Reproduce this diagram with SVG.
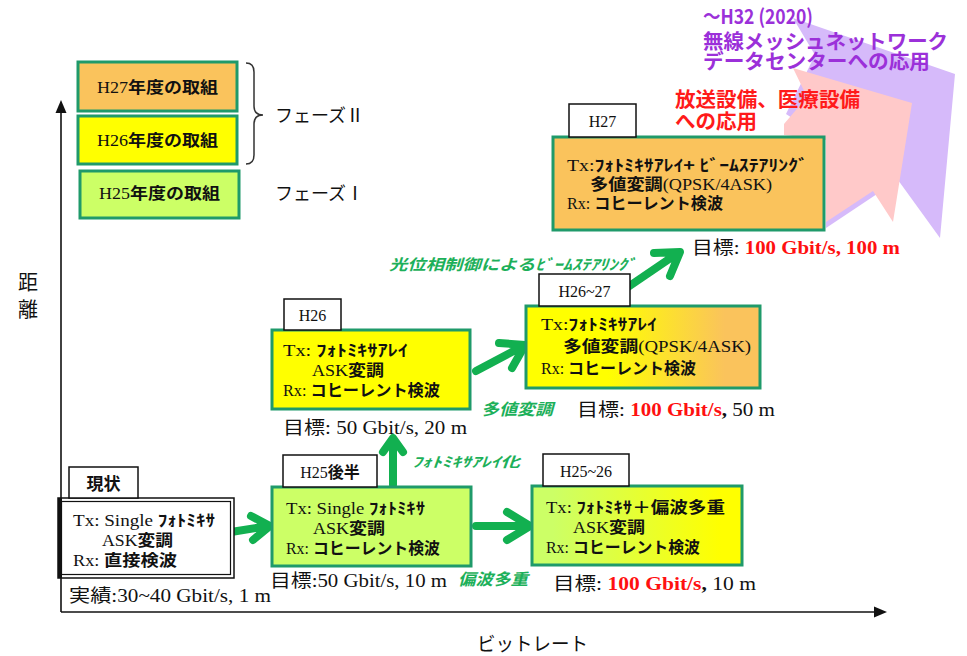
<svg xmlns="http://www.w3.org/2000/svg" width="967" height="656" viewBox="0 0 967 656">
<defs>
<style>
.ser{font-family:"Liberation Serif","Noto Sans CJK JP",serif;font-size:16px;fill:#111}
.san{font-family:"Noto Sans CJK JP",sans-serif;fill:#111}
.j{font-family:"Noto Sans CJK JP",sans-serif;font-weight:bold}
.lbl{fill:#fff;stroke:#111;stroke-width:1.5}
.node{stroke:#1F9A6A;stroke-width:3}
.goal{font-size:18px}
.red{fill:#FF1010;font-weight:bold}
.ax{stroke:#111;stroke-width:1.6;fill:none}
.ga{fill:none;stroke:#12B050;stroke-width:8;stroke-linecap:round;stroke-linejoin:round}
.gl{font-family:"Noto Sans CJK JP",sans-serif;font-style:italic;font-weight:bold;fill:#1DB05A}
.pur{font-family:"Noto Sans CJK JP",sans-serif;font-weight:bold;fill:#9B30D9;font-size:20px}
.rd{font-family:"Noto Sans CJK JP",sans-serif;font-weight:bold;fill:#FF1A1A;font-size:20px}
</style>
<linearGradient id="gYO" x1="0" x2="1" y1="0" y2="0">
<stop offset="0.35" stop-color="#FFFF00"/><stop offset="0.85" stop-color="#FAC35C"/>
</linearGradient>
<linearGradient id="gGY" x1="0" x2="1" y1="0" y2="0">
<stop offset="0.1" stop-color="#CCFF66"/><stop offset="0.9" stop-color="#FFFF00"/>
</linearGradient>
</defs>
<rect width="967" height="656" fill="#fff"/>

<g id="future-shapes">
<polygon points="793,18 955,74 940,238 898,180 826,228 826,140 786,114 815,55" fill="#D6BAFA"/>
<polygon points="793,68 912,103 893,222 873,191 826,222 826,140 784,135 784,124 807,97" fill="#FFC9C9"/>
</g>

<g id="future-text">
<text class="pur" x="703" y="24" textLength="110" lengthAdjust="spacingAndGlyphs">～H32 (2020)</text>
<text class="pur" x="703" y="49" textLength="245" lengthAdjust="spacingAndGlyphs">無線メッシュネットワーク</text>
<text class="pur" x="703" y="69" textLength="227" lengthAdjust="spacingAndGlyphs">データセンターへの応用</text>
<text class="rd" x="675" y="107" textLength="185" lengthAdjust="spacingAndGlyphs">放送設備、医療設備</text>
<text class="rd" x="675" y="129" textLength="82" lengthAdjust="spacingAndGlyphs">への応用</text>
</g>

<g id="axes">
<path class="ax" d="M61,612 V110"/>
<polygon points="61,100 55.5,113 66.5,113" fill="#111"/>
<path class="ax" d="M61,612 H877"/>
<polygon points="887,612 874,606.5 874,617.5" fill="#111"/>
<text class="san" font-size="20" x="28" y="290" text-anchor="middle">距<tspan x="28" dy="27">離</tspan></text>
<text class="san" font-size="19" x="477" y="651" textLength="111" lengthAdjust="spacingAndGlyphs">ビットレート</text>
</g>

<g id="legend">
<g id="leg-h27">
<rect class="node" x="78" y="62" width="159" height="49" fill="#FAC35C"/>
<text class="ser" font-size="17" x="97" y="93" textLength="121" lengthAdjust="spacingAndGlyphs">H27<tspan class="j">年度の取組</tspan></text>
</g>
<g id="leg-h26">
<rect class="node" x="78" y="116" width="159" height="48" fill="#FFFF00"/>
<text class="ser" font-size="17" x="97" y="146" textLength="121" lengthAdjust="spacingAndGlyphs">H26<tspan class="j">年度の取組</tspan></text>
</g>
<g id="leg-h25">
<rect class="node" x="80" y="171" width="159" height="47" fill="#CCFF66"/>
<text class="ser" font-size="17" x="99" y="199" textLength="121" lengthAdjust="spacingAndGlyphs">H25<tspan class="j">年度の取組</tspan></text>
</g>
<path d="M246,63 Q254,63 254,72 L254,106 Q254,115 263,115 Q254,115 254,124 L254,155 Q254,164 246,164" fill="none" stroke="#333" stroke-width="1.5"/>
<text class="san" font-size="18" x="275" y="122">フェーズⅡ</text>
<text class="san" font-size="18" x="275" y="200">フェーズⅠ</text>
</g>

<g id="connectors">
<path class="ga" d="M231,532 L268,526 M251,516 L270,526 L253,540"/>
<path class="ga" d="M476,526 L527,526 M507,512 L530,526 L507,540"/>
<path class="ga" d="M393,485 L393,441 M383,452 L393,438 L403,452"/>
<path class="ga" d="M476,371 L523,346 M499,343 L525,345 L512,368"/>
<path class="ga" d="M628,287 L678,253 M654,253 L680,252 L670,276"/>
<text class="gl" font-size="15" x="389" y="270" textLength="247" lengthAdjust="spacingAndGlyphs">光位相制御によるﾋﾞｰﾑｽﾃｱﾘﾝｸﾞ</text>
<text class="gl" font-size="14" x="412" y="467" textLength="108" lengthAdjust="spacingAndGlyphs">ﾌｫﾄﾐｷｻｱﾚｲ化</text>
<text class="gl" font-size="16" x="458" y="585" textLength="70" lengthAdjust="spacingAndGlyphs">偏波多重</text>
<text class="gl" font-size="16" x="481" y="415" textLength="72" lengthAdjust="spacingAndGlyphs">多値変調</text>
</g>

<g id="genjo">
<rect x="58" y="498" width="176" height="80" fill="#fff" stroke="#111" stroke-width="1.5"/>
<rect x="61.5" y="501.5" width="169" height="73" fill="none" stroke="#111" stroke-width="1.2"/>
<line x1="60" y1="498" x2="60" y2="578" stroke="#111" stroke-width="4"/>
<rect class="lbl" x="69" y="467" width="69" height="31"/>
<text class="san" x="103.5" y="490" text-anchor="middle" font-size="17" font-weight="bold">現状</text>
<text class="ser" x="73" y="526" textLength="142" lengthAdjust="spacingAndGlyphs">Tx: Single <tspan class="j">ﾌｫﾄﾐｷｻ</tspan></text>
<text class="ser" x="102" y="546" textLength="71" lengthAdjust="spacingAndGlyphs">ASK<tspan class="j">変調</tspan></text>
<text class="ser" x="73" y="566" textLength="104" lengthAdjust="spacingAndGlyphs">Rx: <tspan class="j">直接検波</tspan></text>
<text class="ser goal" x="69" y="601.5" textLength="202" lengthAdjust="spacingAndGlyphs"><tspan class="san">実績</tspan>:30~40 Gbit/s, 1 m</text>
</g>

<g id="h25b">
<rect class="node" x="272" y="487" width="199" height="79" fill="#CCFF66"/>
<rect class="lbl" x="283" y="455" width="94" height="32"/>
<text class="ser" font-size="17" x="330" y="478" text-anchor="middle">H25<tspan class="j">後半</tspan></text>
<text class="ser" x="286" y="514" textLength="139" lengthAdjust="spacingAndGlyphs">Tx: Single <tspan class="j">ﾌｫﾄﾐｷｻ</tspan></text>
<text class="ser" x="313" y="534" textLength="72" lengthAdjust="spacingAndGlyphs">ASK<tspan class="j">変調</tspan></text>
<text class="ser" x="286" y="554" textLength="154" lengthAdjust="spacingAndGlyphs">Rx: <tspan class="j">コヒーレント検波</tspan></text>
<text class="ser goal" x="270" y="586.5" textLength="177" lengthAdjust="spacingAndGlyphs"><tspan class="san">目標</tspan>:50 Gbit/s, 10 m</text>
</g>

<g id="h25-26">
<rect class="node" x="532" y="486" width="210" height="79" fill="url(#gGY)"/>
<rect class="lbl" x="543" y="454" width="86" height="32"/>
<text class="ser" font-size="17" x="586" y="477" text-anchor="middle">H25~26</text>
<text class="ser" x="546" y="513" textLength="179" lengthAdjust="spacingAndGlyphs">Tx: <tspan class="j">ﾌｫﾄﾐｷｻ＋偏波多重</tspan></text>
<text class="ser" x="573" y="533" textLength="72" lengthAdjust="spacingAndGlyphs">ASK<tspan class="j">変調</tspan></text>
<text class="ser" x="546" y="553" textLength="154" lengthAdjust="spacingAndGlyphs">Rx: <tspan class="j">コヒーレント検波</tspan></text>
<text class="ser goal" x="553" y="589.5" textLength="203" lengthAdjust="spacingAndGlyphs"><tspan class="san">目標</tspan>: <tspan class="red">100 Gbit/s</tspan><tspan font-weight="bold">,</tspan>  10 m</text>
</g>

<g id="h26">
<rect class="node" x="272" y="330" width="198" height="79" fill="#FFFF00"/>
<rect class="lbl" x="284" y="299" width="57" height="31"/>
<text class="ser" font-size="17" x="312.5" y="321" text-anchor="middle">H26</text>
<text class="ser" x="283" y="356" textLength="125" lengthAdjust="spacingAndGlyphs">Tx: <tspan class="j">ﾌｫﾄﾐｷｻｱﾚｲ</tspan></text>
<text class="ser" x="312" y="376" textLength="72" lengthAdjust="spacingAndGlyphs">ASK<tspan class="j">変調</tspan></text>
<text class="ser" x="283" y="396" textLength="157" lengthAdjust="spacingAndGlyphs">Rx: <tspan class="j">コヒーレント検波</tspan></text>
<text class="ser goal" x="283" y="433.5" textLength="184" lengthAdjust="spacingAndGlyphs"><tspan class="san">目標</tspan>: 50 Gbit/s, 20 m</text>
</g>

<g id="h26-27">
<rect class="node" x="526" y="306" width="234" height="82" fill="url(#gYO)"/>
<rect class="lbl" x="539" y="274" width="91" height="32"/>
<text class="ser" font-size="17" x="584.5" y="297" text-anchor="middle">H26~27</text>
<text class="ser" x="541" y="330" textLength="116" lengthAdjust="spacingAndGlyphs">Tx:<tspan class="j">ﾌｫﾄﾐｷｻｱﾚｲ</tspan></text>
<text class="ser" x="563" y="352" textLength="188" lengthAdjust="spacingAndGlyphs"><tspan class="j">多値変調</tspan>(QPSK/4ASK)</text>
<text class="ser" x="541" y="374" textLength="155" lengthAdjust="spacingAndGlyphs">Rx: <tspan class="j">コヒーレント検波</tspan></text>
<text class="ser goal" x="577" y="415.5" textLength="198" lengthAdjust="spacingAndGlyphs"><tspan class="san">目標</tspan>: <tspan class="red">100 Gbit/s</tspan><tspan font-weight="bold">,</tspan> 50 m</text>
</g>

<g id="h27">
<rect class="node" x="553" y="137" width="271" height="93" fill="#FAC35C"/>
<rect class="lbl" x="569" y="104" width="67" height="33"/>
<text class="ser" font-size="17" x="602.5" y="127" text-anchor="middle">H27</text>
<text class="ser" x="567" y="171" textLength="241" lengthAdjust="spacingAndGlyphs">Tx:<tspan class="j">ﾌｫﾄﾐｷｻｱﾚｲ+ ﾋﾞｰﾑｽﾃｱﾘﾝｸﾞ</tspan></text>
<text class="ser" x="590" y="190" textLength="182" lengthAdjust="spacingAndGlyphs"><tspan class="j">多値変調</tspan>(QPSK/4ASK)</text>
<text class="ser" x="567" y="209" textLength="156" lengthAdjust="spacingAndGlyphs">Rx: <tspan class="j">コヒーレント検波</tspan></text>
<text class="ser goal" x="692" y="253.5" textLength="208" lengthAdjust="spacingAndGlyphs"><tspan class="san">目標</tspan>: <tspan class="red">100 Gbit/s, 100 m</tspan></text>
</g>
</svg>
